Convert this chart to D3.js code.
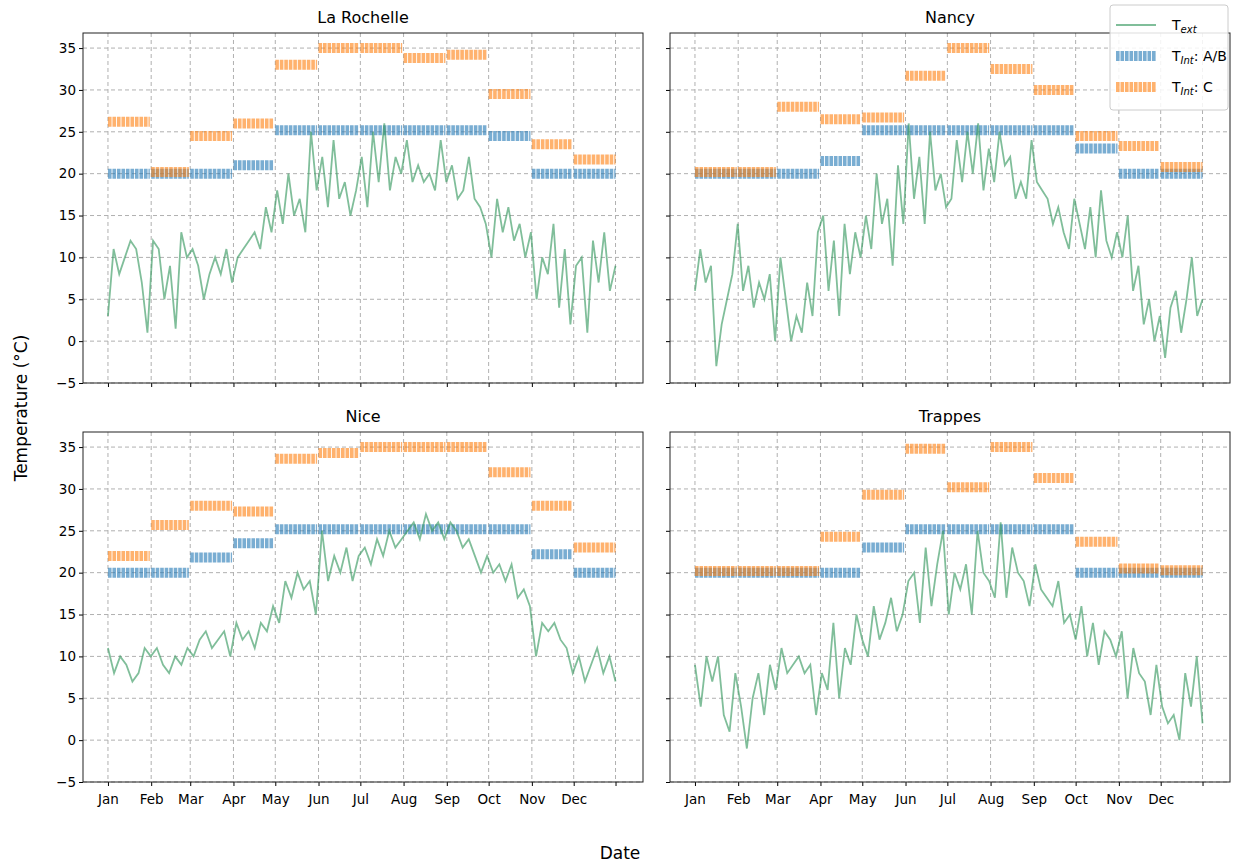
<!DOCTYPE html>
<html><head><meta charset="utf-8">
<script src="https://cdn.jsdelivr.net/npm/d3@7"></script>
<style>body{margin:0;background:#fff;font-family:"DejaVu Sans",sans-serif}</style>
</head><body><svg id="c" width="1250" height="867"></svg>
<script>
const cities = ["La Rochelle", "Nancy", "Nice", "Trappes"];
const months = ["Jan","Feb","Mar","Apr","May","Jun","Jul","Aug","Sep","Oct","Nov","Dec"];
const monthStart = [0,31,59,90,120,151,181,212,243,273,304,334,365];
const yTicks = [-5,0,5,10,15,20,25,30,35];

// T_int set points per month
const tAB = {
  "La Rochelle": [20,20,20,21,25.2,25.2,25.2,25.2,25.2,24.5,20,20],
  "Nancy":       [20,20,20,21.5,25.2,25.2,25.2,25.2,25.2,23,20,20],
  "Nice":        [20,20,21.8,23.5,25.2,25.2,25.2,25.2,25.2,25.2,22.2,20],
  "Trappes":     [20,20,20,20,23,25.2,25.2,25.2,25.2,20,20,20]
};
const tC = {
  "La Rochelle": [26.2,20.2,24.5,26,33,35,35,33.8,34.2,29.5,23.5,21.7],
  "Nancy":       [20.2,20.2,28,26.5,26.7,31.7,35,32.5,30,24.5,23.3,20.8],
  "Nice":        [22,25.7,28,27.3,33.6,34.3,35,35,35,32,28,23],
  "Trappes":     [20.2,20.2,20.2,24.3,29.3,34.8,30.2,35,31.3,23.7,20.5,20.3]
};

// T_ext, sampled roughly every 4 days over the year
const tExt = {
  "La Rochelle": [3,11,8,10,12,11,7,1,12,11,5,9,1.5,13,10,11,9,5,8,10,8,11,7,10,11,12,13,11,16,13,18,14,20,15,17,13,25,18,22,16,24,17,19,15,18,22,16,25,19,26,18,22,20,24,19,21,19,20,18,24,19,21,17,18,22,17,16,14,10,17,13,16,12,14,10,13,5,10,8,14,4,11,2,9,10,1,12,7,13,6,9],
  "Nancy": [6,11,7,9,-3,2,5,8,14,6,9,4,7,5,8,0,10,5,0,3,1,7,3,13,15,6,12,3,14,8,13,10,15,11,20,14,17,9,21,14,26,17,22,14,25,18,20,16,17,24,19,25,20,26,18,23,19,25,21,22,17,19,17,24,19,18,17,14,16,13,11,17,14,11,16,10,18,12,10,13,10,15,6,9,2,5,0,3,-2,4,6,1,5,10,3,5],
  "Nice": [11,8,10,9,7,8,11,10,11,9,8,10,9,11,10,12,13,11,12,13,10,14,12,13,11,14,13,16,14,19,17,20,18,19,15,25,19,22,20,23,19,22,23,21,24,22,25,23,24,25,26,24,27,25,26,24,26,25,23,24,22,20,22,20,21,19,21,17,18,16,10,14,13,14,12,11,8,10,7,9,11,8,10,7],
  "Trappes": [9,4,10,7,10,3,1,8,4,-1,5,8,3,9,6,11,8,9,10,8,9,3,8,6,14,5,11,9,15,12,10,16,12,14,17,13,15,19,20,14,23,16,21,25,15,20,18,21,15,25,20,19,17,26,17,23,20,19,16,21,18,17,16,19,14,15,12,16,10,14,9,13,12,10,13,5,11,8,7,3,9,4,2,3,0,8,4,10,2]
};

const svg = d3.select("#c");
const panels = [
  {x:83, y:33}, {x:670, y:33}, {x:83, y:432}, {x:670, y:432}
];
const W = 560, H = 350;
const green = "rgba(60,155,100,0.65)";
const blue = "rgba(31,119,180,0.6)";
const orange = "rgba(255,127,14,0.6)";
const dash = "3.6,0.9";

cities.forEach((city, i) => {
  const p = panels[i];
  const g = svg.append("g").attr("transform", `translate(${p.x},${p.y})`);
  const x = d3.scaleLinear().domain([-17.9, 383.7]).range([0, W]);
  const y = d3.scaleLinear().domain([-5, 36.8]).range([H, 0]);

  // grid
  g.selectAll(".gx").data(monthStart.slice(0, 12).concat([364])).enter().append("line")
    .attr("x1", d => x(d)).attr("x2", d => x(d)).attr("y1", 0).attr("y2", H)
    .attr("stroke", "#b0b0b0").attr("stroke-dasharray", "4,3");
  g.selectAll(".gy").data(yTicks).enter().append("line")
    .attr("x1", 0).attr("x2", W).attr("y1", d => y(d)).attr("y2", d => y(d))
    .attr("stroke", "#b0b0b0").attr("stroke-dasharray", "4,3");

  // interior set points
  [[tAB[city], blue], [tC[city], orange]].forEach(([vals, col]) => {
    g.selectAll(null).data(vals).enter().append("line")
      .attr("x1", (d, m) => x(monthStart[m])).attr("x2", (d, m) => x(monthStart[m + 1] - 1))
      .attr("y1", d => y(d)).attr("y2", d => y(d))
      .attr("stroke", col).attr("stroke-width", 10).attr("stroke-dasharray", dash);
  });

  // exterior
  const vals = tExt[city];
  const line = d3.line().x((d, k) => x(k * 364 / (vals.length - 1))).y(d => y(d));
  g.append("path").attr("d", line(vals)).attr("fill", "none")
    .attr("stroke", green).attr("stroke-width", 1.8);

  // axes
  const xa = d3.axisBottom(x).tickValues(monthStart.slice(0, 12).concat([364])).tickSize(4)
    .tickFormat((d, k) => i >= 2 && k < 12 ? months[k] : "");
  const gxa = g.append("g").attr("transform", `translate(0,${H})`).call(xa);
  const ya = d3.axisLeft(y).tickValues(yTicks).tickSize(4)
    .tickFormat(d => i % 2 === 0 ? (d < 0 ? "\u2212" + (-d) : d) : "");
  const gya = g.append("g").call(ya);
  [gxa, gya].forEach(a => {
    a.select(".domain").remove();
    a.selectAll("text").attr("font-size", 13.5).attr("fill", "#000").attr("font-family", "DejaVu Sans");
  });
  gxa.selectAll("text").attr("dy", "1.1em");
  g.append("rect").attr("width", W).attr("height", H).attr("fill", "none").attr("stroke", "#222");

  g.append("text").attr("x", W / 2).attr("y", -10).attr("text-anchor", "middle")
    .attr("font-size", 16).text(city);
});

svg.append("text").attr("x", 620).attr("y", 859).attr("text-anchor", "middle")
  .attr("font-size", 17).text("Date");
svg.append("text").attr("transform", "translate(27,408) rotate(-90)").attr("text-anchor", "middle")
  .attr("font-size", 17).text("Temperature (°C)");

// legend
const lg = svg.append("g").attr("transform", "translate(1110,5)");
lg.append("rect").attr("width", 118).attr("height", 105).attr("rx", 3)
  .attr("fill", "rgba(255,255,255,0.85)").attr("stroke", "#ccc");
const items = [
  {col: green, w: 2, sub: "ext", rest: ""},
  {col: blue, w: 10, sub: "Int", rest: ": A/B"},
  {col: orange, w: 10, sub: "Int", rest: ": C"}
];
items.forEach((it, k) => {
  const yy = 20 + k * 31;
  lg.append("line").attr("x1", 6).attr("x2", 46).attr("y1", yy).attr("y2", yy)
    .attr("stroke", it.col).attr("stroke-width", it.w)
    .attr("stroke-dasharray", it.w > 2 ? dash : null);
  const t = lg.append("text").attr("x", 62).attr("y", yy + 5).attr("font-size", 14);
  t.append("tspan").text("T");
  t.append("tspan").attr("font-size", 10).attr("font-style", "italic").attr("dy", 3).text(it.sub);
  t.append("tspan").attr("dy", -3).text(it.rest);
});
</script></body></html>
